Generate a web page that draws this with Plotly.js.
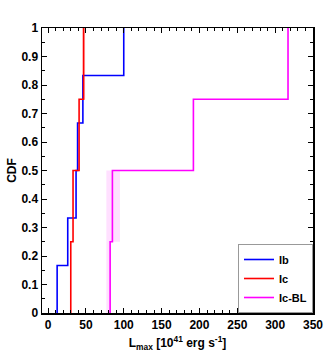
<html lang="en">
  <head>
    <meta charset="UTF-8" />
    <script src="https://cdn.plot.ly/plotly-3.0.1.min.js"></script>
    <title>CDF of Lmax</title>
  </head>
  <body style="margin:0">
    <div id="cdfPlot" style="width: 327px; height: 352px;"></div>
    <script>
      // peak luminosities, 10^41 erg/s
      const lmaxIb = [12, 26, 37, 39, 46, 100];
      const lmaxIc = [30, 33, 41, 47];
      const lmaxIcBL = [82, 85, 192, 317];

      // faint uncertainty bands around some steps: [xlo, xhi, ylo, yhi]
      const bandIc = [[45, 49, 0.75, 1]];
      const bandIcBL = [[77, 83, 0, 0.25], [77, 95, 0.25, 0.5]];

      function stepTrace(vals, name, color) {
          const n = vals.length;
          const x = vals.concat([vals[n - 1]]);
          const y = Array.from({ length: n + 1 }, (_, i) => i / n);
          return {
              x: x,
              y: y,
              type: 'scatter',
              mode: 'lines',
              line: { color: color, width: 1.6, shape: 'vh' },
              name: name
          };
      }

      function bandTrace(b, color) {
          return {
              x: [b[0], b[1], b[1], b[0], b[0]],
              y: [b[2], b[2], b[3], b[3], b[2]],
              type: 'scatter',
              mode: 'lines',
              fill: 'toself',
              fillcolor: color,
              line: { width: 0 },
              hoverinfo: 'skip',
              showlegend: false
          };
      }

      const traces = [];
      bandIc.forEach(b => traces.push(bandTrace(b, 'rgba(255,0,0,0.15)')));
      bandIcBL.forEach(b => traces.push(bandTrace(b, 'rgba(255,0,255,0.12)')));
      traces.push(stepTrace(lmaxIb, 'Ib', '#0000ff'));
      traces.push(stepTrace(lmaxIc, 'Ic', '#ff0000'));
      traces.push(stepTrace(lmaxIcBL, 'Ic-BL', '#ff00ff'));

      const tickFont = { family: 'Liberation Sans, Arial', size: 12, color: '#000', weight: 'bold' };

      const layout = {
          width: 327,
          height: 352,
          margin: { l: 42, r: 14, t: 28, b: 39 },
          paper_bgcolor: '#fff',
          plot_bgcolor: '#fff',
          showlegend: true,
          legend: {
              x: 1, y: 0, xanchor: 'right', yanchor: 'bottom',
              bgcolor: '#fff', bordercolor: '#999', borderwidth: 1,
              font: { family: 'Liberation Sans, Arial', size: 11, color: '#000', weight: 'bold' },
              itemwidth: 30,
              tracegroupgap: 0
          },
          xaxis: {
              range: [-8, 350],
              tickvals: [0, 50, 100, 150, 200, 250, 300, 350],
              ticks: 'inside', ticklen: 5, tickcolor: '#000',
              minor: { dtick: 10, ticks: 'inside', ticklen: 3, tickcolor: '#000' },
              showline: true, linecolor: '#000', linewidth: 1.5, mirror: 'ticks',
              showgrid: false, zeroline: false,
              tickfont: tickFont,
              title: { text: 'L<sub>max</sub> [10<sup>41</sup> erg s<sup>-1</sup>]', font: tickFont, standoff: 9 }
          },
          yaxis: {
              range: [0, 1],
              dtick: 0.1,
              ticks: 'inside', ticklen: 5, tickcolor: '#000',
              minor: { dtick: 0.05, ticks: 'inside', ticklen: 3, tickcolor: '#000' },
              showline: true, linecolor: '#000', linewidth: 1.5, mirror: 'ticks',
              showgrid: false, zeroline: false,
              tickfont: tickFont,
              title: { text: 'CDF', font: tickFont, standoff: 2 }
          }
      };

      Plotly.newPlot('cdfPlot', traces, layout, { staticPlot: true });
    </script>
  </body>
</html>
